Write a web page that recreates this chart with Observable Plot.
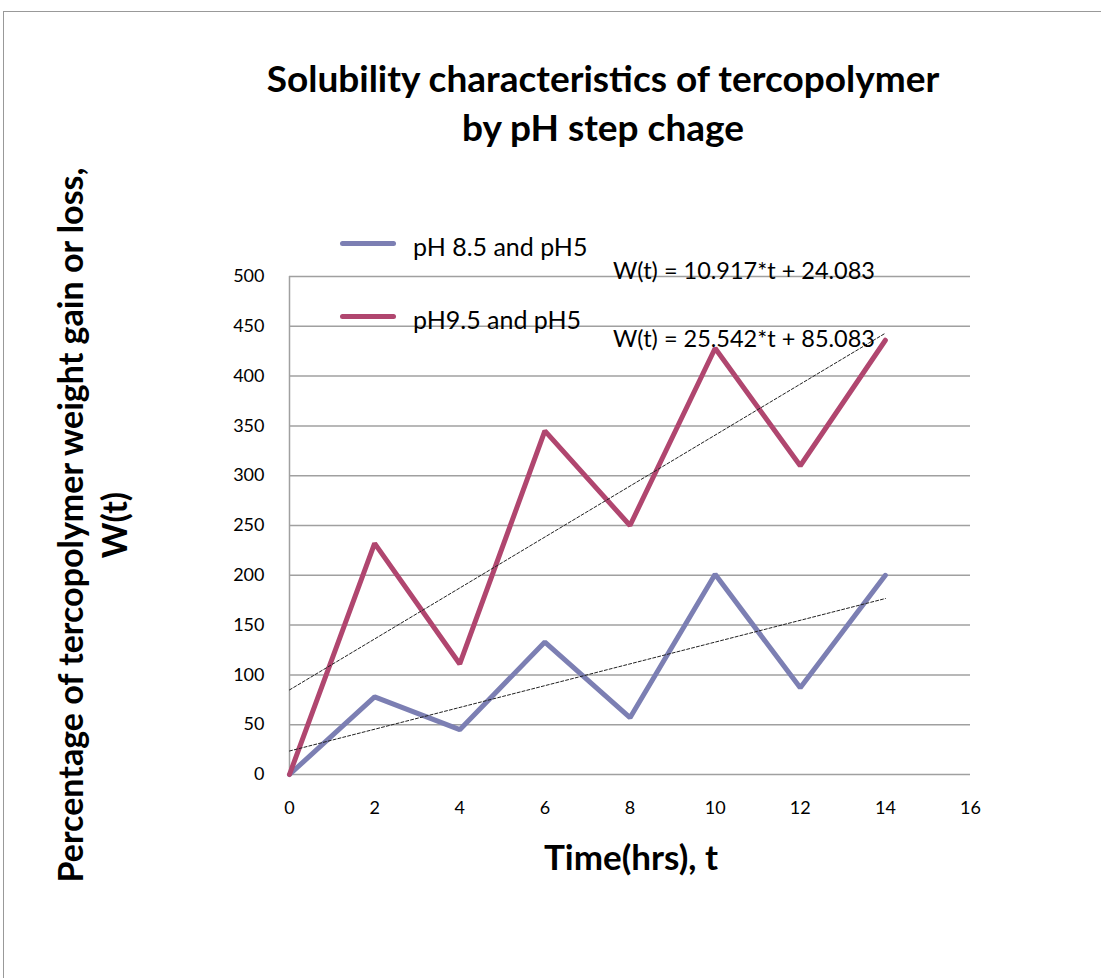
<!DOCTYPE html>
<html><head><meta charset="utf-8">
<script src="https://cdn.jsdelivr.net/npm/d3@7"></script>
<script src="https://cdn.jsdelivr.net/npm/@observablehq/plot@0.6"></script>
<style>
body{margin:0;background:#fff;font-family:Lato,sans-serif;}
#wrap{position:relative;width:1101px;height:978px;overflow:hidden;background:#fff;}
#wrap svg{position:absolute;left:0;top:0;}
.frame{position:absolute;left:3px;top:11px;width:1200px;height:1200px;border-left:1px solid #999;border-top:1px solid #999;}
.abs{position:absolute;white-space:nowrap;color:#000;}
.title{left:603px;top:53px;transform:translateX(-50%);text-align:center;font-weight:bold;font-size:37px;line-height:49px;}
.xlabel{left:631px;top:835px;transform:translateX(-50%);font-weight:bold;font-size:35px;line-height:42px;}
.ylabel{left:92px;top:525px;transform:translate(-50%,-50%) rotate(-90deg);text-align:center;font-weight:bold;font-size:34px;line-height:44px;}
.leg{font-size:25px;line-height:30px;}
.eq{font-size:23.5px;line-height:28px;}
.legline{position:absolute;height:5px;border-radius:3px;width:56px;}
</style></head><body><div id="wrap"><div class="frame"></div></div>
<script>
const times = [0, 2, 4, 6, 8, 10, 12, 14];
const seriesNames = ["pH 8.5 and pH5", "pH9.5 and pH5"];
const ph85 = [0, 78, 45, 133, 57, 201, 87, 200];
const ph95 = [0, 232, 111, 345, 250, 428, 310, 436];
const seriesColors = ["#7c7fb3", "#b0466f"];
const equations = ["W(t) = 10.917*t + 24.083", "W(t) = 25.542*t + 85.083"];
const xTicks = [0, 2, 4, 6, 8, 10, 12, 14, 16];
const yTicks = [0, 50, 100, 150, 200, 250, 300, 350, 400, 450, 500];
const titleLines = ["Solubility characteristics of tercopolymer", "by pH step chage"];
const xTitle = "Time(hrs), t";
const yTitleLines = ["Percentage of tercopolymer weight gain or loss,", "W(t)"];

const data = times.flatMap((t, i) => [
  {t, w: ph85[i], s: seriesNames[0]},
  {t, w: ph95[i], s: seriesNames[1]}
]);

const wrap = document.getElementById("wrap");
const chart = Plot.plot({
  width: 1101, height: 978,
  marginLeft: 289, marginRight: 131, marginTop: 276, marginBottom: 204,
  style: {fontFamily: "Lato, sans-serif", fontSize: "18px", color: "#000", background: "transparent", overflow: "visible"},
  x: {domain: [0, 16], ticks: xTicks, tickSize: 0, tickPadding: 27, label: null},
  y: {domain: [0, 500], ticks: yTicks, tickSize: 0, tickPadding: 25, label: null},
  color: {domain: seriesNames, range: seriesColors},
  marks: [
    Plot.gridY(yTicks, {stroke: "#a0a0a0", strokeOpacity: 1, strokeWidth: 1.5}),
    Plot.ruleX([0], {stroke: "#a0a0a0", strokeWidth: 1.5}),
    Plot.line(data, {x: "t", y: "w", z: "s", stroke: "s", strokeWidth: 5, strokeLinejoin: "miter"}),
    Plot.linearRegressionY(data, {x: "t", y: "w", z: "s", stroke: "#222", strokeWidth: 1, strokeDasharray: "3,2", ci: 0})
  ]
});
wrap.appendChild(chart);

function add(cls, html, style) {
  const d = document.createElement("div");
  d.className = "abs " + cls;
  d.innerHTML = html;
  if (style) Object.assign(d.style, style);
  wrap.appendChild(d);
  return d;
}
add("title", titleLines.join("<br>"));
add("xlabel", xTitle);
add("ylabel", yTitleLines.join("<br>"));

// legend
const legendTops = [243, 316];
seriesNames.forEach((n, i) => {
  const l = document.createElement("div");
  l.className = "legline";
  Object.assign(l.style, {left: "340px", top: (legendTops[i] - 2.5) + "px", background: seriesColors[i]});
  wrap.appendChild(l);
  add("leg", n, {left: "413px", top: (legendTops[i] - 12) + "px"});
});
// trendline equations
const eqCenters = [270, 338];
equations.forEach((e, i) => add("eq", e, {left: "613px", top: (eqCenters[i] - 14) + "px"}));
</script>
</body></html>
